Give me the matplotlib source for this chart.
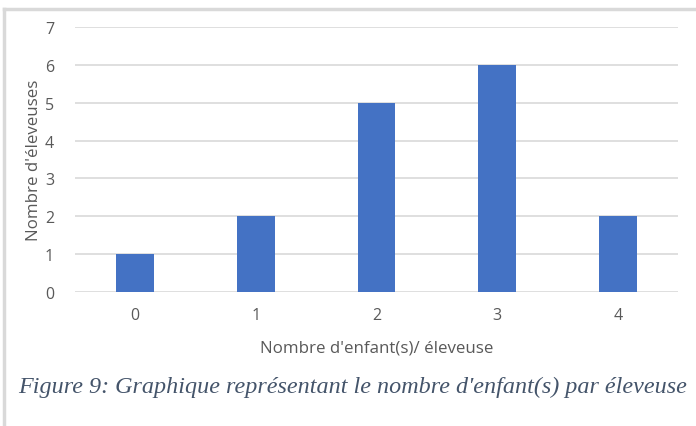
import matplotlib.pyplot as plt
from matplotlib.lines import Line2D

categories = ['0', '1', '2', '3', '4']
counts = [1, 2, 5, 6, 2]

fig = plt.figure(figsize=(6.96, 4.27), dpi=100)
ax = fig.add_axes([75 / 696, 1 - 293 / 427, 603 / 696, 265 / 427])

ax.bar(categories, counts, width=0.315, color='#4472C4', zorder=3)
ax.set_ylim(0, 7)
ax.set_xlim(-0.5, 4.5)
ax.set_yticks(range(0, 8))
ax.yaxis.grid(True, color='#D9D9D9', linewidth=1.2, zorder=0)
for s in ax.spines.values():
    s.set_visible(False)
ax.tick_params(length=0, labelsize=11.5, labelcolor='#595959')
for lbl in ax.get_xticklabels() + ax.get_yticklabels():
    lbl.set_family('Open Sans')
ax.tick_params(axis='x', pad=11)
ax.tick_params(axis='y', pad=15)

ax.set_xlabel("Nombre d'enfant(s)/ éleveuse", fontsize=12.2, color='#595959',
              family='Open Sans', labelpad=12)
ax.set_ylabel("Nombre d'éleveuses", fontsize=12.2, color='#595959',
              family='Open Sans', labelpad=2)

fig.text(18 / 696, 1 - 387 / 427,
         "Figure 9: Graphique représentant le nombre d'enfant(s) par éleveuse",
         fontsize=17.4, style='italic', family='Liberation Serif',
         color='#44546A', va='center', ha='left')

# frame lines from the document
fig.add_artist(Line2D([3.5 / 696, 3.5 / 696], [0, 1 - 10 / 427],
                      color='#D9D9D9', linewidth=2.5, transform=fig.transFigure))
fig.add_artist(Line2D([3.5 / 696, 1], [1 - 10 / 427, 1 - 10 / 427],
                      color='#D9D9D9', linewidth=2.5, transform=fig.transFigure))

fig.savefig('out.png', dpi=100)
